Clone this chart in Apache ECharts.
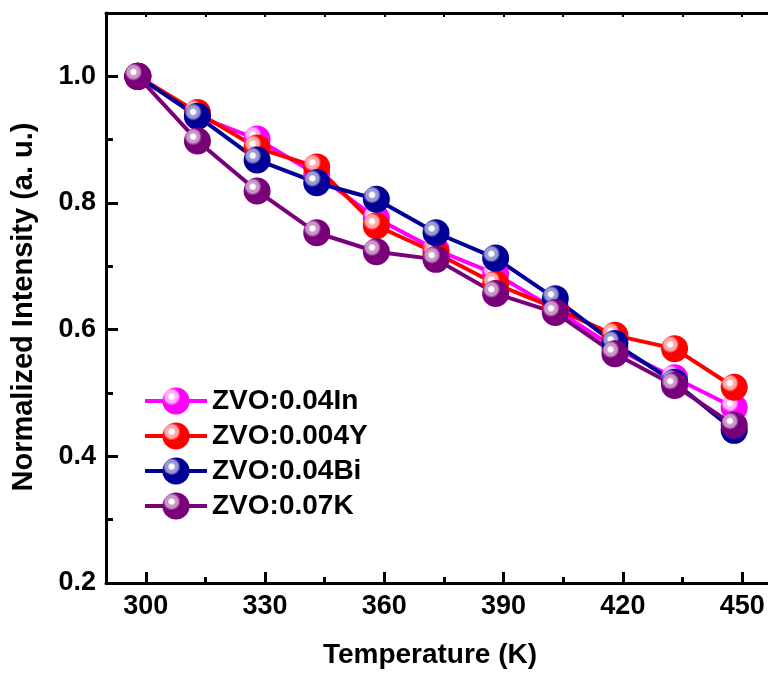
<!DOCTYPE html>
<html>
<head>
<meta charset="utf-8">
<script src="https://cdn.jsdelivr.net/npm/echarts@6/dist/echarts.min.js"></script>
<style>
  html, body { margin: 0; padding: 0; background: #fff; overflow: hidden; }
  #chart { width: 768px; height: 676px; }
</style>
</head>
<body>
<div id="chart"></div>
<script>
// temperatures (K) and normalized intensities
var temperature = [298, 313, 328, 343, 358, 373, 388, 403, 418, 433, 448]
var zvoIn = [1.0, 0.937, 0.901, 0.845, 0.776, 0.726, 0.688, 0.632, 0.571, 0.524, 0.477]
var zvoY = [1.0, 0.943, 0.887, 0.857, 0.764, 0.721, 0.672, 0.634, 0.591, 0.570, 0.509]
var zvoBi = [1.0, 0.937, 0.868, 0.832, 0.806, 0.753, 0.713, 0.649, 0.578, 0.517, 0.441]
var zvoK = [1.0, 0.898, 0.819, 0.753, 0.723, 0.711, 0.657, 0.627, 0.562, 0.512, 0.449]

var xMajor = [300, 330, 360, 390, 420, 450]
var xMinor = [315, 345, 375, 405, 435]
var xAll = [300, 315, 330, 345, 360, 375, 390, 405, 420, 435, 450]
var yMajor = [0.2, 0.4, 0.6, 0.8, 1.0]
var yMinor = [0.3, 0.5, 0.7, 0.9]

var font = "'Liberation Sans', Arial, Helvetica, sans-serif"

function ball (color, tint) {
  return new echarts.graphic.RadialGradient(0.34, 0.34, 0.68, [
    {offset: 0, color: '#ffffff'},
    {offset: 0.12, color: '#ffffff'},
    {offset: 0.22, color: tint},
    {offset: 0.34, color: tint},
    {offset: 0.48, color: color},
    {offset: 1, color: color}
  ])
}

function makeSeries (name, values, color, tint) {
  return {
    name: name,
    type: 'line',
    data: temperature.map(function (t, i) { return [t, values[i]] }),
    symbol: 'circle',
    symbolSize: 27,
    lineStyle: { width: 4, color: color },
    itemStyle: { color: ball(color, tint) },
    emphasis: { disabled: true },
    animation: false
  }
}

var chart = echarts.init(document.getElementById('chart'))

// plot frame runs past the right edge of the picture; 456.5 K sits at the canvas edge
var baseX = {
  type: 'value',
  min: 290,
  max: 456.5,
  splitLine: { show: false },
  axisLine: { show: false },
  axisLabel: { show: false },
  axisTick: { show: false }
}

var option = {
  backgroundColor: '#fff',
  grid: {
    left: 106,
    top: 13,
    right: 0,
    bottom: 93,
    containLabel: false,
    outerBoundsMode: 'none'
  },
  legend: {
    orient: 'vertical',
    left: 138,
    top: 382,
    itemWidth: 62,
    itemHeight: 34,
    itemGap: 7,
    lineStyle: { width: 4 },
    textStyle: { fontFamily: font, fontWeight: 'bold', fontSize: 28, color: '#000' },
    data: ['ZVO:0.04In', 'ZVO:0.004Y', 'ZVO:0.04Bi', 'ZVO:0.07K']
  },
  xAxis: [
    Object.assign({}, baseX, {
      position: 'bottom',
      name: 'Temperature (K)',
      nameLocation: 'middle',
      nameGap: 58,
      nameTextStyle: { fontFamily: font, fontWeight: 'bold', fontSize: 28, color: '#000', padding: [0, 14, 0, 0] },
      axisLine: { show: true, onZero: false, lineStyle: { color: '#000', width: 3 } },
      axisTick: { show: true, inside: true, length: 11, customValues: xMajor, lineStyle: { color: '#000', width: 3 } },
      axisLabel: {
        show: true,
        customValues: xMajor,
        margin: 10,
        fontFamily: font,
        fontWeight: 'bold',
        fontSize: 27,
        color: '#000'
      }
    }),
    Object.assign({}, baseX, {
      position: 'bottom',
      axisTick: { show: true, inside: true, length: 6, customValues: xMinor, lineStyle: { color: '#000', width: 3 } }
    }),
    Object.assign({}, baseX, {
      position: 'top',
      axisLine: { show: true, onZero: false, lineStyle: { color: '#000', width: 3 } },
      axisTick: { show: true, inside: true, length: 4, customValues: xAll, lineStyle: { color: '#000', width: 2 } }
    })
  ],
  yAxis: [
    {
      type: 'value',
      position: 'left',
      min: 0.2,
      max: 1.1,
      name: 'Normalized Intensity (a. u.)',
      nameLocation: 'middle',
      nameGap: 68,
      nameTextStyle: { fontFamily: font, fontWeight: 'bold', fontSize: 29, color: '#000', padding: [0, 18, 0, 0] },
      splitLine: { show: false },
      axisLine: { show: true, onZero: false, lineStyle: { color: '#000', width: 3 } },
      axisTick: { show: true, inside: true, length: 12, customValues: yMajor, lineStyle: { color: '#000', width: 3 } },
      axisLabel: {
        customValues: yMajor,
        margin: 10,
        fontFamily: font,
        fontWeight: 'bold',
        fontSize: 27,
        color: '#000',
        formatter: function (v) { return v.toFixed(1) }
      }
    },
    {
      type: 'value',
      position: 'left',
      min: 0.2,
      max: 1.1,
      splitLine: { show: false },
      axisLine: { show: false },
      axisLabel: { show: false },
      axisTick: { show: true, inside: true, length: 7, customValues: yMinor, lineStyle: { color: '#000', width: 3 } }
    }
  ],
  series: [
    makeSeries('ZVO:0.04In', zvoIn, '#ff00ff', '#ffb0ff'),
    makeSeries('ZVO:0.004Y', zvoY, '#ff0000', '#ffaaaa'),
    makeSeries('ZVO:0.04Bi', zvoBi, '#000099', '#9a9ad0'),
    makeSeries('ZVO:0.07K', zvoK, '#7a007a', '#c896c8')
  ]
}

chart.setOption(option)
window.addEventListener('resize', function () { chart.resize() })
</script>
</body>
</html>
